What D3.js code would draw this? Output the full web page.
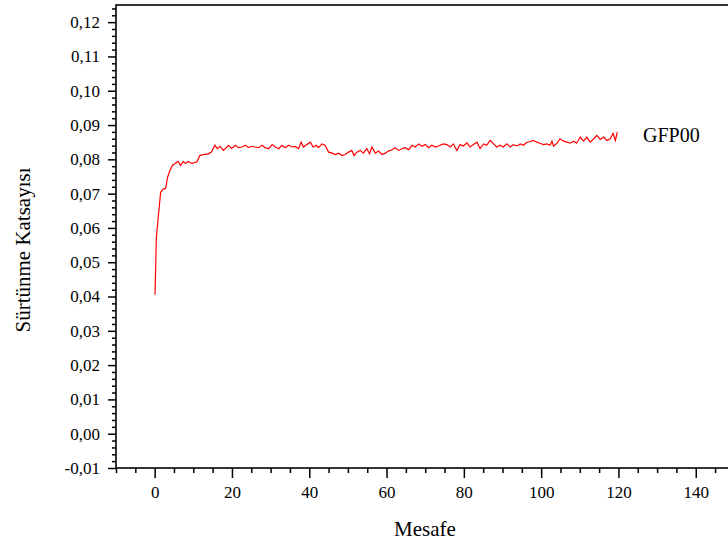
<!DOCTYPE html>
<html><head><meta charset="utf-8">
<script src="https://cdn.jsdelivr.net/npm/d3@7/dist/d3.min.js"></script>
<style>
html,body{margin:0;padding:0;background:#fff;}
svg{display:block;}
text{font-family:"Liberation Serif","Times New Roman",serif;fill:#000;}
</style></head>
<body>
<svg id="chart" width="728" height="545"></svg>
<script>
// Data
const seriesName = "GFP00";
const xTitle = "Mesafe";
const yTitle = "Sürtünme Katsayısı";
const distance = [0.1,0.44,1.55,2.25,2.85,3.36,3.98,4.6,5.3,6.1,6.7,7.4,8.0,8.7,9.6,10.9,11.7,12.6,13.9,14.7,15.6,16.2,16.9,17.8,19.1,19.9,
 20.9,21.7,22.6,23.5,24.3,25.2,26.0,26.9,27.8,28.6,29.5,30.4,31.2,32.1,32.9,33.8,34.7,35.5,36.4,37.2,37.9,38.5,39.4,40.3,41.0,41.8,42.4,43.3,44.1,45.0,45.9,
 46.7,47.6,48.5,49.3,50.2,51.0,51.6,52.3,53.2,54.0,54.9,55.6,56.2,57.1,57.9,58.8,59.7,60.5,61.4,62.2,63.1,64.0,64.8,65.7,66.6,67.4,68.3,69.2,70.0,70.9,
 71.7,72.6,73.4,74.7,75.6,76.5,77.3,78.2,79.0,79.9,80.8,81.6,82.5,83.4,84.2,85.1,85.9,86.8,87.7,88.5,89.4,90.2,91.1,92.0,92.8,93.7,94.6,95.4,96.3,97.2,98.0,98.9,
 99.7,100.6,101.5,102.3,102.8,103.2,104.1,104.9,105.8,106.7,107.5,108.4,109.2,110.1,111.0,111.8,112.7,113.6,114.4,115.3,116.2,117.0,117.9,118.6,119.2,119.7];
const friction = [0.0405,0.0573,0.0704,0.0714,0.0715,0.0748,0.0768,0.0782,0.0788,0.0794,0.0782,0.0794,0.0788,0.0794,0.0788,0.0792,0.0811,0.0814,0.0816,0.0821,0.0841,0.0831,0.0838,0.0826,0.0841,0.0832,
 0.0841,0.0834,0.0836,0.0841,0.0834,0.0838,0.0836,0.0834,0.0841,0.0834,0.0831,0.0843,0.0836,0.0831,0.0841,0.0834,0.0841,0.0836,0.0838,0.0831,0.0850,0.0836,0.0843,0.0850,0.0836,0.0841,0.0834,0.0845,0.0841,0.0821,0.0818,
 0.0814,0.0818,0.0811,0.0814,0.0821,0.0826,0.0811,0.0821,0.0826,0.0818,0.0831,0.0816,0.0836,0.0818,0.0824,0.0814,0.0818,0.0824,0.0828,0.0834,0.0826,0.0831,0.0834,0.0828,0.0841,0.0836,0.0845,0.0838,0.0843,0.0834,
 0.0841,0.0836,0.0839,0.0845,0.0843,0.0836,0.0845,0.0826,0.0843,0.0839,0.0848,0.0836,0.0843,0.0850,0.0831,0.0845,0.0841,0.0855,0.0845,0.0836,0.0841,0.0836,0.0845,0.0836,0.0843,0.0839,0.0845,0.0841,0.0850,0.0852,0.0855,0.0850,
 0.0847,0.0843,0.0845,0.0841,0.0853,0.0838,0.0847,0.0860,0.0853,0.0850,0.0847,0.0853,0.0847,0.0865,0.0853,0.0865,0.0850,0.0860,0.0870,0.0858,0.0865,0.0855,0.0860,0.0876,0.0855,0.0879];
const xTicks = [0,20,40,60,80,100,120,140];
const yTicks = [-0.01,0,0.01,0.02,0.03,0.04,0.05,0.06,0.07,0.08,0.09,0.10,0.11,0.12];

const svg = d3.select("#chart");
const pLeft = 116, pRight = 734.4, pTop = 5, pBottom = 468;
const x = d3.scaleLinear().domain([-10,150]).range([pLeft,pRight]);
const y = d3.scaleLinear().domain([-0.01,0.125]).range([pBottom,pTop]);
const fmt = d => d3.format(".2f")(d).replace(".", ",").replace("\u2212", "-");
const serif = '"Liberation Serif","Times New Roman",serif';

// minor ticks
const xMinor = d3.range(-10,151,5).filter(v => v % 20 !== 0);
const yMinor = d3.range(-10,126,2).map(v=>v/1000).filter(v => Math.abs(Math.round(v*1000)) % 10 !== 0);

const gx = svg.append("g").attr("transform",`translate(0,${pBottom})`);
gx.call(d3.axisBottom(x).tickValues(xMinor).tickSize(5).tickFormat(""));
gx.append("g").call(d3.axisBottom(x).tickValues(xTicks).tickSize(10).tickPadding(8).tickFormat(d3.format("d")));
const gy = svg.append("g").attr("transform",`translate(${pLeft},0)`);
gy.call(d3.axisLeft(y).tickValues(yMinor).tickSize(4).tickFormat(""));
gy.append("g").call(d3.axisLeft(y).tickValues(yTicks).tickSize(8).tickPadding(8).tickFormat(fmt));
svg.selectAll("g").attr("font-family", serif).attr("font-size", 17);
svg.selectAll(".domain").remove();
svg.selectAll(".tick line").attr("stroke","#000").attr("stroke-width",1.5);
svg.selectAll(".tick text").attr("font-family", serif).attr("font-size", 17).attr("fill","#000");

// frame
svg.append("rect").attr("x",pLeft).attr("y",pTop).attr("width",pRight-pLeft).attr("height",pBottom-pTop)
  .attr("fill","none").attr("stroke","#000").attr("stroke-width",1.6);

// line
const pts = distance.map((d,i)=>[d,friction[i]]);
svg.append("path").datum(pts)
  .attr("d", d3.line().x(d=>x(d[0])).y(d=>y(d[1])))
  .attr("fill","none").attr("stroke","#ff0000").attr("stroke-width",1.2);

// labels
svg.append("text").attr("x",643).attr("y",142).attr("font-family", serif).style("font-size","20px").text(seriesName);
svg.append("text").attr("x",425).attr("y",536).attr("text-anchor","middle").attr("font-family", serif).style("font-size","21px").text(xTitle);
svg.append("text").attr("transform","translate(30,250) rotate(-90)").attr("text-anchor","middle").attr("font-family", serif).style("font-size","21px").text(yTitle);
</script>
</body></html>
